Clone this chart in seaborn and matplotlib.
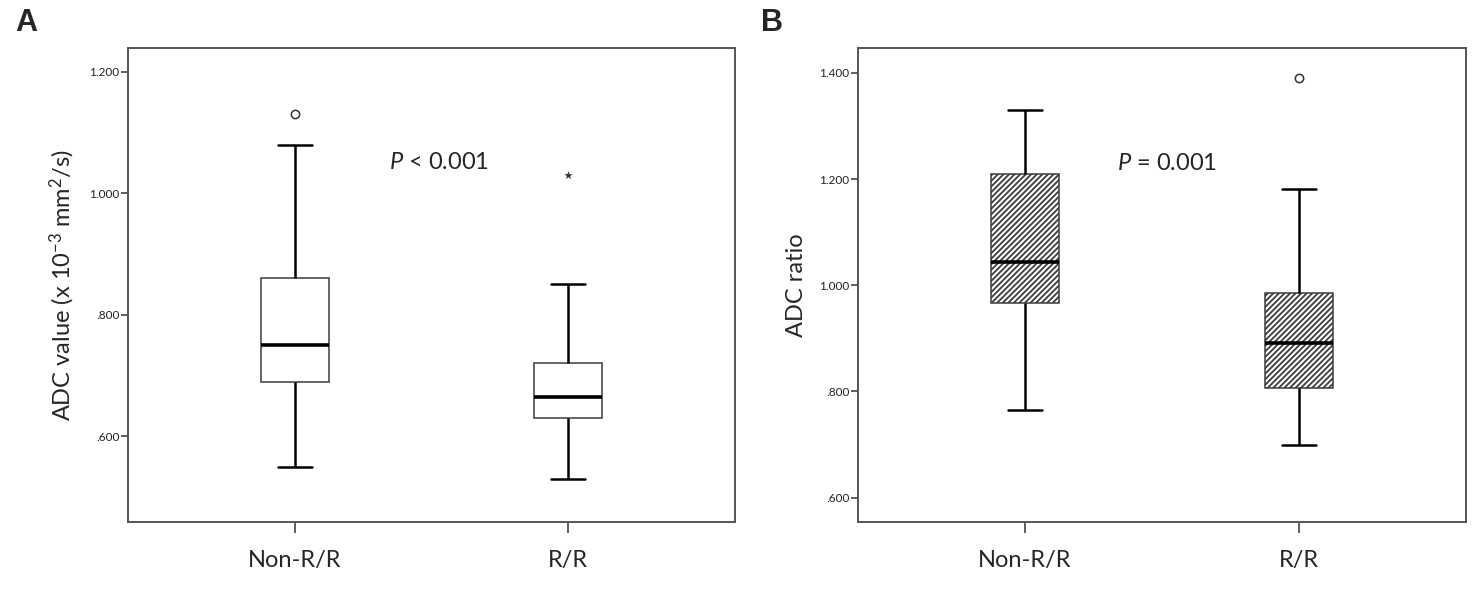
import numpy as np
import pandas as pd
import matplotlib
matplotlib.use("Agg")
import matplotlib.pyplot as plt
from matplotlib.ticker import FuncFormatter
import seaborn as sns

# groups on the x axis
groups = ["Non-R/R", "R/R"]

# panel A: ADC value, five-number summary (lo, q1, median, q3, hi)
adc_nonrr = [0.55, 0.69, 0.75, 0.86, 1.08]
adc_rr = [0.53, 0.63, 0.665, 0.72, 0.85]
adc_circle = [1.13]     # open circle above Non-R/R
adc_star = [1.03]       # extreme value above R/R

# panel B: ADC ratio
ratio_nonrr = [0.765, 0.966, 1.043, 1.209, 1.33]
ratio_rr = [0.70, 0.806, 0.891, 0.986, 1.182]
ratio_circle = [1.39]   # open circle above R/R

adc_ticks = [0.6, 0.8, 1.0, 1.2]
ratio_ticks = [0.6, 0.8, 1.0, 1.2, 1.4]

sns.set_style("white")
plt.rcParams["font.family"] = ["Lato", "DejaVu Sans"]
plt.rcParams["mathtext.fontset"] = "custom"
plt.rcParams["mathtext.it"] = "Lato:italic"
plt.rcParams["mathtext.rm"] = "Lato"
plt.rcParams["hatch.linewidth"] = 1.3


def spss_fmt(v, pos):
    s = f"{v:.3f}"
    return s[1:] if s.startswith("0") else s


def long_frame(a, b):
    return pd.DataFrame({"group": [groups[0]] * len(a) + [groups[1]] * len(b),
                         "value": a + b})


def draw_panel(ax, df, ylim, ticks, ylabel, hatch=None):
    sns.boxplot(data=df, x="group", y="value", ax=ax, whis=(0, 100), width=0.25,
                color="white", linecolor="#3c3c3c", linewidth=1.1, fliersize=0,
                whiskerprops={"color": "black", "linewidth": 1.8},
                capprops={"color": "black", "linewidth": 1.8},
                medianprops={"color": "black", "linewidth": 2.6})
    if hatch:
        for p in ax.patches:
            p.set_hatch(hatch)
    ax.set_xlim(-0.61, 1.61)
    ax.set_ylim(*ylim)
    ax.set_yticks(ticks)
    ax.yaxis.set_major_formatter(FuncFormatter(spss_fmt))
    ax.set_xlabel("")
    ax.set_ylabel(ylabel, fontsize=17, labelpad=9)
    ax.tick_params(axis="y", which="major", left=True, length=5, width=1.2,
                   color="#444444", labelsize=8.5, pad=1, labelcolor="#222222")
    ax.tick_params(axis="x", which="major", bottom=True, length=8, width=1.2,
                   color="#444444", labelsize=17, pad=12)
    for s in ax.spines.values():
        s.set_visible(True)
        s.set_color("#555555")
        s.set_linewidth(1.4)


fig = plt.figure(figsize=(14.77, 5.96), dpi=100)
axA = fig.add_axes([128 / 1477, 1 - 522 / 596, (735 - 128) / 1477, (522 - 48) / 596])
axB = fig.add_axes([858 / 1477, 1 - 522 / 596, (1466 - 858) / 1477, (522 - 48) / 596])

draw_panel(axA, long_frame(adc_nonrr, adc_rr), (0.459, 1.239), adc_ticks,
           "ADC value (x 10$^{-3}$ mm$^{2}$/s)")
sns.scatterplot(x=[groups[0]] * len(adc_circle), y=adc_circle, ax=axA, marker="o",
                s=36, facecolor="white", edgecolor="#333333", linewidth=1.1)
sns.scatterplot(x=[groups[1]] * len(adc_star), y=adc_star, ax=axA, marker="*",
                s=40, color="#333333", linewidth=0)
axA.text(0.343, 1.051, "$P$ < 0.001", fontsize=17, va="center", ha="left")

draw_panel(axB, long_frame(ratio_nonrr, ratio_rr), (0.554, 1.447), ratio_ticks,
           "ADC ratio", hatch="//////")
sns.scatterplot(x=[groups[1]] * len(ratio_circle), y=ratio_circle, ax=axB, marker="o",
                s=36, facecolor="white", edgecolor="#333333", linewidth=1.1)
axB.text(0.337, 1.23, "$P$ = 0.001", fontsize=17, va="center", ha="left")

fig.text(15 / 1477, 1 - 23 / 596, "A", fontsize=22, fontweight="bold",
         family=["Liberation Sans", "DejaVu Sans"], va="center", ha="left")
fig.text(761 / 1477, 1 - 23 / 596, "B", fontsize=22, fontweight="bold",
         family=["Liberation Sans", "DejaVu Sans"], va="center", ha="left")

fig.savefig("out.png", dpi=100, facecolor="white")
